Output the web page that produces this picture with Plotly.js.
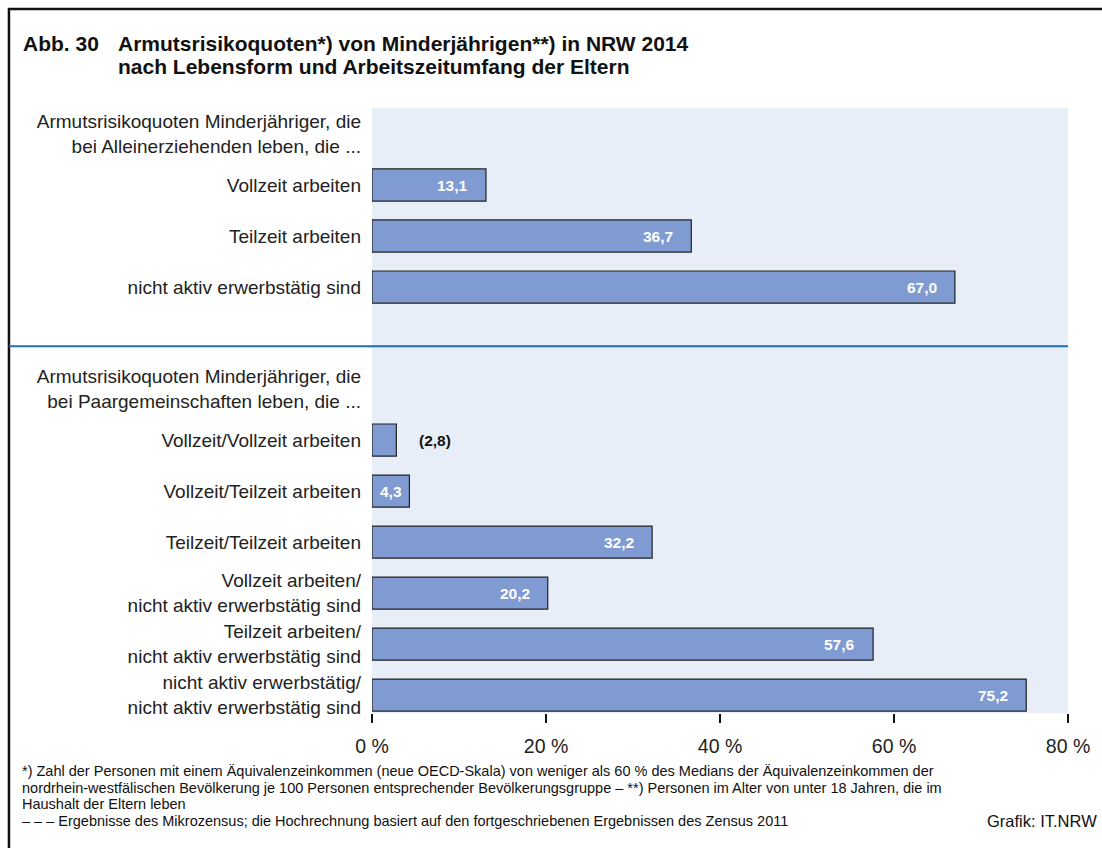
<!DOCTYPE html>
<html>
<head>
<meta charset="utf-8">
<script src="https://cdn.plot.ly/plotly-3.0.1.min.js"></script>
<style>
    body { margin: 0; background: #ffffff; }
    #chart { width: 1102px; height: 848px; }
</style>
</head>
<body>
<div id="chart"></div>
<script>
// Categories, top to bottom (header rows and a spacer row carry no bar)
const categories = [
    'Armutsrisikoquoten Minderjähriger, die<br>bei Alleinerziehenden leben, die ...',
    'Vollzeit arbeiten',
    'Teilzeit arbeiten',
    'nicht aktiv erwerbstätig sind',
    ' ',
    'Armutsrisikoquoten Minderjähriger, die<br>bei Paargemeinschaften leben, die ...',
    'Vollzeit/Vollzeit arbeiten',
    'Vollzeit/Teilzeit arbeiten',
    'Teilzeit/Teilzeit arbeiten',
    'Vollzeit arbeiten/<br>nicht aktiv erwerbstätig sind',
    'Teilzeit arbeiten/<br>nicht aktiv erwerbstätig sind',
    'nicht aktiv erwerbstätig/<br>nicht aktiv erwerbstätig sind'
];

const barCategories = [
    categories[1], categories[2], categories[3],
    categories[6], categories[7], categories[8],
    categories[9], categories[10], categories[11]
];
const barValues = [13.1, 36.7, 67.0, 2.8, 4.3, 32.2, 20.2, 57.6, 75.2];
const barLabels = ['13,1', '36,7', '67,0', '(2,8)', '4,3', '32,2', '20,2', '57,6', '75,2'];

const tickValues = [0, 20, 40, 60, 80];
const tickLabels = ['0 %', '20 %', '40 %', '60 %', '80 %'];

const titleLines = [
    'Armutsrisikoquoten*) von Minderjährigen**) in NRW 2014',
    'nach Lebensform und Arbeitszeitumfang der Eltern'
];

const footnoteLines = [
    '*) Zahl der Personen mit einem Äquivalenzeinkommen (neue OECD-Skala) von weniger als 60 % des Medians der Äquivalenzeinkommen der',
    'nordrhein-westfälischen Bevölkerung je 100 Personen entsprechender Bevölkerungsgruppe – **) Personen im Alter von unter 18 Jahren, die im',
    'Haushalt der Eltern leben',
    '– – – Ergebnisse des Mikrozensus; die Hochrechnung basiert auf den fortgeschriebenen Ergebnissen des Zensus 2011'
];

const font = 'Liberation Sans, Arial, sans-serif';

// Value labels: bold white inside the bar end; tiny bars get special handling
const valueAnnotations = barValues.map((v, i) => {
    const label = barLabels[i];
    const base = {
        y: barCategories[i], xref: 'x', yref: 'y',
        text: '<b>' + label + '</b>', showarrow: false,
        font: { family: font, size: 15.5, color: '#ffffff' }
    };
    if (label.startsWith('(')) {
        return { ...base, x: v, xanchor: 'left', xshift: 21,
            font: { ...base.font, color: '#111111' } };
    }
    if (v < 8) {
        return { ...base, x: v / 2, xanchor: 'center' };
    }
    return { ...base, x: v, xanchor: 'right', xshift: -16 };
});

// Title and footnote, one annotation per line to keep the tight leading
const titleAnnotations = [
    {
        xref: 'paper', yref: 'paper', x: -0.5043, y: 1.1058,
        xanchor: 'left', yanchor: 'middle', showarrow: false,
        text: '<b>Abb. 30</b>',
        font: { family: font, size: 21, color: '#111111' }
    },
    ...titleLines.map((t, i) => ({
        xref: 'paper', yref: 'paper', x: -0.3678, y: 1.1058 - i * 0.0364,
        xanchor: 'left', yanchor: 'middle', showarrow: false,
        text: '<b>' + t + '</b>',
        font: { family: font, size: 21, color: '#111111' }
    }))
];

const footnoteAnnotations = [
    ...footnoteLines.map((t, i) => ({
        xref: 'paper', yref: 'paper', x: -0.5043, y: -0.0959 - i * 0.0273,
        xanchor: 'left', yanchor: 'middle', showarrow: false, borderpad: 0,
        text: t,
        font: { family: font, size: 14.5, color: '#111111' }
    })),
    {
        xref: 'paper', yref: 'paper', x: 1.0431, y: -0.1777,
        xanchor: 'right', yanchor: 'middle', showarrow: false, borderpad: 0,
        text: 'Grafik: IT.NRW',
        font: { family: font, size: 16.5, color: '#111111' }
    }
];

const data = [{
    type: 'bar',
    orientation: 'h',
    x: barValues,
    y: barCategories,
    width: 0.63,
    marker: { color: '#7f9bd1', line: { color: '#222222', width: 1.2 } },
    hoverinfo: 'skip'
}];

const layout = {
    width: 1102,
    height: 848,
    margin: { l: 372, r: 34, t: 108, b: 135 },
    paper_bgcolor: '#ffffff',
    plot_bgcolor: '#e7eef8',
    showlegend: false,
    xaxis: {
        range: [0, 80],
        tickvals: tickValues,
        ticktext: tickLabels,
        showgrid: false,
        zeroline: false,
        showline: false,
        ticks: 'outside',
        ticklen: 9,
        tickwidth: 1.5,
        tickcolor: '#111111',
        ticklabelstandoff: 7,
        tickfont: { family: font, size: 19.5, color: '#222222' }
    },
    yaxis: {
        type: 'category',
        categoryorder: 'array',
        categoryarray: categories,
        tickvals: categories,
        range: [11.35, -0.51],
        showgrid: false,
        zeroline: false,
        showline: false,
        ticks: '',
        ticklabelstandoff: 10,
        tickfont: { family: font, size: 19, color: '#222222' }
    },
    shapes: [
        // outer frame
        {
            type: 'rect', xref: 'paper', yref: 'paper',
            x0: -0.5216, x1: 1.2, y0: -0.4, y1: 1.1636,
            line: { color: '#111111', width: 2.5 }
        },
        // separator between both groups
        {
            type: 'line', xref: 'paper', yref: 'y',
            x0: -0.5216, x1: 1, y0: 4.16, y1: 4.16,
            line: { color: '#1f6db5', width: 2 }
        }
    ],
    annotations: [...titleAnnotations, ...footnoteAnnotations, ...valueAnnotations]
};

Plotly.newPlot('chart', data, layout, { displayModeBar: false, staticPlot: true });
</script>
</body>
</html>
